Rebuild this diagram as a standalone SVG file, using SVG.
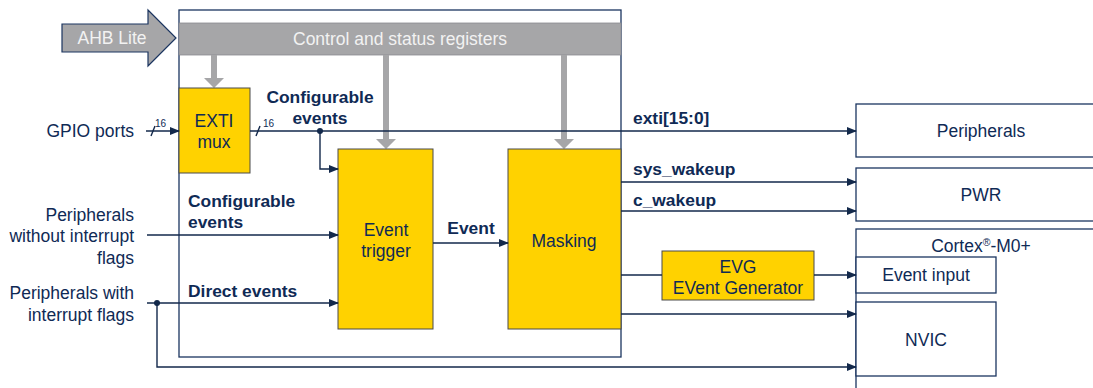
<svg xmlns="http://www.w3.org/2000/svg" width="1093" height="388" viewBox="0 0 1093 388">
<defs>
<style>
.t{font-family:"Liberation Sans",Arial,sans-serif;font-size:17.5px;fill:#0f2a55}
.b{font-family:"Liberation Sans",Arial,sans-serif;font-size:17.4px;font-weight:bold;fill:#0f2a55}
.w{font-family:"Liberation Sans",Arial,sans-serif;font-size:17.5px;fill:#f2f2f2}
.box{fill:#fff;stroke:#1b3560;stroke-width:1.3}
.yb{fill:#ffd200;stroke:#4a4a4a;stroke-width:1}
.ln{fill:none;stroke:#13294b;stroke-width:1.4}
.ga{fill:#a6a6a8}
</style>
<marker id="ah" markerWidth="10" markerHeight="8" refX="9" refY="4" orient="auto" markerUnits="userSpaceOnUse">
<path d="M0,0 L10,4 L0,8 Z" fill="#13294b"/>
</marker>
</defs>

<g id="main-block">
<rect x="179" y="10" width="442" height="347" class="box"/>
</g>

<g id="registers">
<rect x="179" y="23" width="442" height="32" fill="#a6a6a8" stroke="#8a8a90" stroke-width="0.8"/>
<text x="400" y="45" text-anchor="middle" class="w">Control and status registers</text>
</g>

<g id="ahb">
<path d="M62,24 H148 V10 L176,38 L148,66 V52 H62 Z" fill="#a6a6a8" stroke="#1b3560" stroke-width="1.2"/>
<text x="112" y="44" text-anchor="middle" class="w">AHB Lite</text>
</g>

<g id="reg-arrows">
<path class="ga" d="M211,55 H217 V78 H224 L214,88 L204,78 H211 Z"/>
<path class="ga" d="M383,55 H389 V139 H396 L386,149 L376,139 H383 Z"/>
<path class="ga" d="M561,55 H567 V139 H574 L564,149 L554,139 H561 Z"/>
</g>

<g id="exti-mux">
<rect x="179" y="88" width="71" height="85" class="yb"/>
<text x="214" y="127" text-anchor="middle" class="t">EXTI</text>
<text x="214" y="148" text-anchor="middle" class="t">mux</text>
</g>

<g id="event-trigger">
<rect x="338" y="149" width="95" height="180" class="yb"/>
<text x="386" y="236" text-anchor="middle" class="t">Event</text>
<text x="386" y="257" text-anchor="middle" class="t">trigger</text>
</g>

<g id="masking">
<rect x="508" y="149" width="113" height="180" class="yb"/>
<text x="564" y="247" text-anchor="middle" class="t">Masking</text>
</g>

<g id="evg">
<rect x="662" y="251" width="152" height="49" class="yb"/>
<text x="738" y="273" text-anchor="middle" class="t">EVG</text>
<text x="738" y="294" text-anchor="middle" class="t">EVent Generator</text>
</g>

<g id="peripherals">
<rect x="856" y="104" width="250" height="53" class="box"/>
<text x="981" y="137" text-anchor="middle" class="t">Peripherals</text>
</g>

<g id="pwr">
<rect x="856" y="168" width="250" height="53" class="box"/>
<text x="981" y="201" text-anchor="middle" class="t">PWR</text>
</g>

<g id="cortex">
<rect x="856" y="229" width="250" height="170" class="box"/>
<text x="981" y="252" text-anchor="middle" class="t">Cortex<tspan font-size="10.5" dy="-6">®</tspan><tspan dy="6">-M0+</tspan></text>
</g>

<g id="event-input">
<rect x="856" y="257" width="140" height="36" class="box"/>
<text x="926" y="281" text-anchor="middle" class="t">Event input</text>
</g>

<g id="nvic">
<rect x="856" y="302" width="140" height="74" class="box"/>
<text x="926" y="346" text-anchor="middle" class="t">NVIC</text>
</g>

<g id="labels">
<text x="134" y="137" text-anchor="end" class="t">GPIO ports</text>
<text x="134" y="221" text-anchor="end" class="t">Peripherals</text>
<text x="134" y="242" text-anchor="end" class="t">without interrupt</text>
<text x="134" y="264" text-anchor="end" class="t">flags</text>
<text x="134" y="299" text-anchor="end" class="t">Peripherals with</text>
<text x="134" y="321" text-anchor="end" class="t">interrupt flags</text>
<text x="320" y="103" text-anchor="middle" class="b">Configurable</text>
<text x="320" y="124" text-anchor="middle" class="b">events</text>
<text x="188" y="207" class="b">Configurable</text>
<text x="188" y="228" class="b">events</text>
<text x="188" y="297" class="b">Direct events</text>
<text x="471" y="234" text-anchor="middle" class="b">Event</text>
<text x="633" y="124" class="b">exti[15:0]</text>
<text x="633" y="175" class="b">sys_wakeup</text>
<text x="633" y="206" class="b">c_wakeup</text>
<text x="155" y="127" font-family="Liberation Sans,Arial,sans-serif" font-size="10" fill="#0f2a55">16</text>
<text x="263" y="127" font-family="Liberation Sans,Arial,sans-serif" font-size="10" fill="#0f2a55">16</text>
</g>

<g id="connectors">
<line x1="146" y1="131" x2="179" y2="131" class="ln" marker-end="url(#ah)"/>
<line x1="151" y1="136" x2="155" y2="126" class="ln" stroke-width="1"/>
<line x1="250" y1="131" x2="856" y2="131" class="ln" marker-end="url(#ah)"/>
<line x1="256" y1="136" x2="260" y2="126" class="ln" stroke-width="1"/>
<circle cx="320" cy="131" r="3" fill="#13294b"/>
<path d="M320,131 V169 H338" class="ln" marker-end="url(#ah)"/>
<line x1="147" y1="235" x2="338" y2="235" class="ln" marker-end="url(#ah)"/>
<line x1="147" y1="303" x2="338" y2="303" class="ln" marker-end="url(#ah)"/>
<circle cx="157" cy="303" r="3" fill="#13294b"/>
<path d="M157,303 V367 H856" class="ln" marker-end="url(#ah)"/>
<line x1="433" y1="243" x2="508" y2="243" class="ln" marker-end="url(#ah)"/>
<line x1="621" y1="182" x2="856" y2="182" class="ln" marker-end="url(#ah)"/>
<line x1="621" y1="211" x2="856" y2="211" class="ln" marker-end="url(#ah)"/>
<line x1="621" y1="275" x2="662" y2="275" class="ln"/>
<line x1="814" y1="275" x2="856" y2="275" class="ln" marker-end="url(#ah)"/>
<line x1="621" y1="314" x2="856" y2="314" class="ln" marker-end="url(#ah)"/>
</g>
</svg>
